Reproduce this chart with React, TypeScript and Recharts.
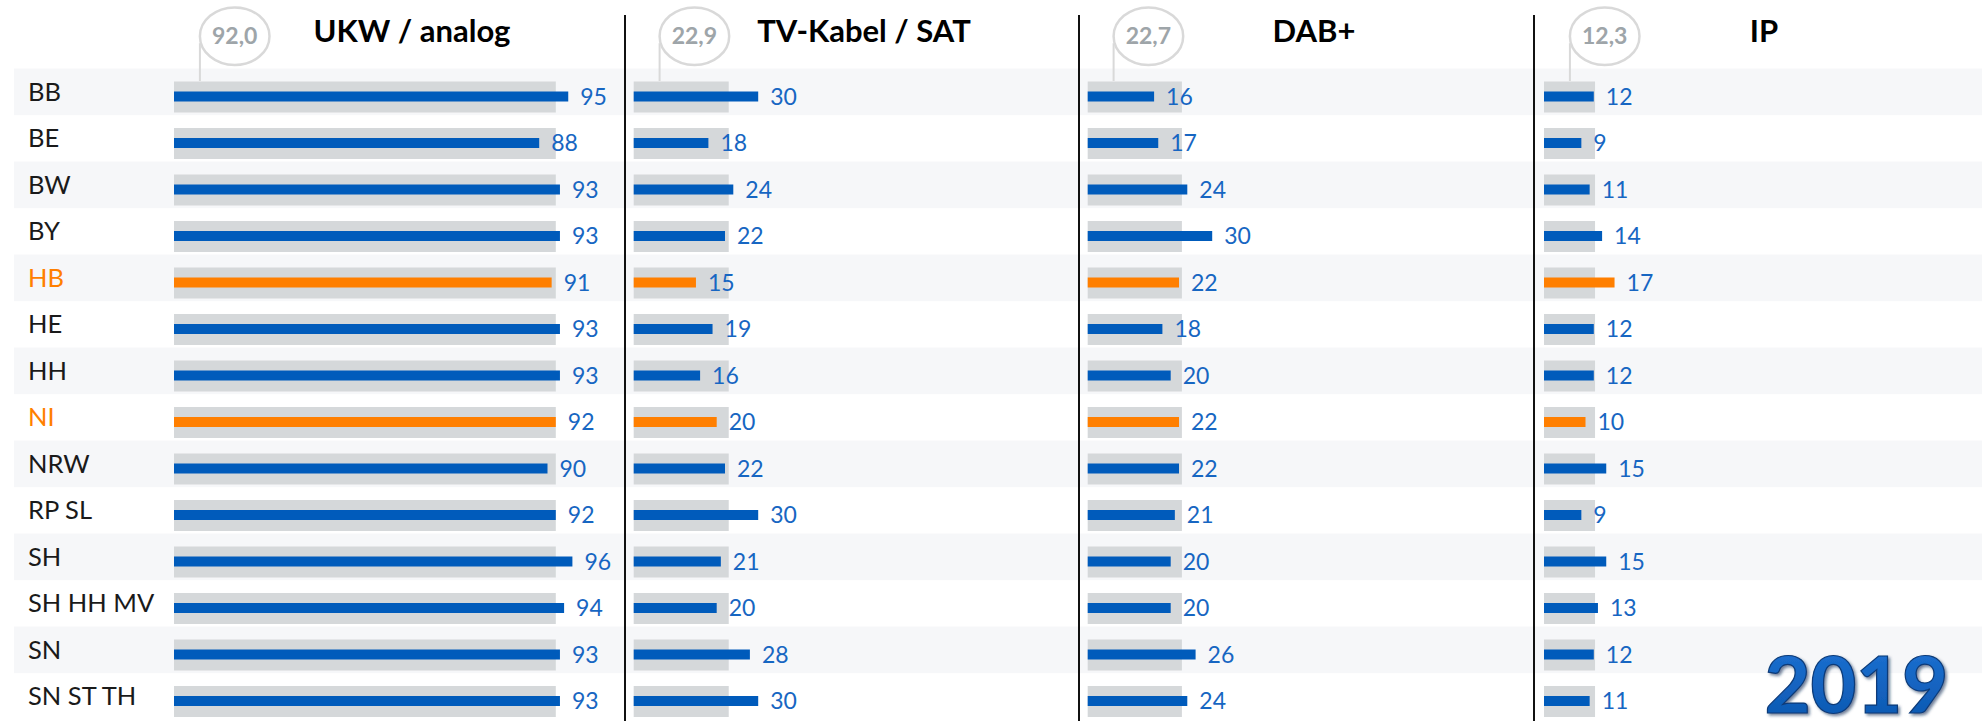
import React from 'react';
import { BarChart, Bar, XAxis, YAxis, Cell, LabelList } from 'recharts';

// data
const regions = ['BB', 'BE', 'BW', 'BY', 'HB', 'HE', 'HH', 'NI', 'NRW', 'RP SL', 'SH', 'SH HH MV', 'SN', 'SN ST TH'];
const highlighted = ['HB', 'NI'];
const ukwAnalog = [95, 88, 93, 93, 91, 93, 93, 92, 90, 92, 96, 94, 93, 93];
const tvKabelSat = [30, 18, 24, 22, 15, 19, 16, 20, 22, 30, 21, 20, 28, 30];
const dabPlus = [16, 17, 24, 30, 22, 18, 20, 22, 22, 21, 20, 20, 26, 24];
const ipValues = [12, 9, 11, 14, 17, 12, 12, 10, 15, 9, 15, 13, 12, 11];
const titles = ['UKW / analog', 'TV-Kabel / SAT', 'DAB+', 'IP'];
const averages = [92.0, 22.9, 22.7, 12.3];
const yearLabel = '2019';

const series = [ukwAnalog, tvKabelSat, dabPlus, ipValues];

const BLUE = '#005bbb';
const ORANGE = '#ff7f00';
const LABEL_BLUE = '#1766c2';
const GREY_BAR = '#d5d8da';
const STRIPE = '#f6f7f9';
const FONT = 'Lato, "Noto Sans", sans-serif';

const PX_PER_UNIT = 4.15;
const TOP = 73.45;
const BAND = 46.5;
const CHART_H = 740;

// panel geometry
const panels = [
  { left: 0, width: 625, barStart: 174, max: 100, stripeLeft: 14, titleX: 412 },
  { left: 625, width: 454, barStart: 8.7, max: 40, stripeLeft: 0, titleX: 864 },
  { left: 1079, width: 455, barStart: 8.7, max: 40, stripeLeft: 0, titleX: 1314 },
  { left: 1534, width: 448, barStart: 10, max: 40, stripeLeft: 0, titleX: 1764 },
];
const dividers = [625, 1079, 1534];

const makeStripe = (x0: number, x1: number) => (props: any) => {
  const { y, height, index } = props;
  if (index % 2 !== 0) return <g />;
  const cy = y + height / 2;
  return <rect x={x0} y={cy - 28.4} width={x1 - x0} height={46.6} fill={STRIPE} />;
};

const RegionTick = (props: any) => {
  const { y, payload } = props;
  const color = highlighted.includes(payload.value) ? ORANGE : '#1a1a1a';
  return (
    <text x={28} y={y - 5} dy="0.36em" fill={color} fontSize={25.5} fontFamily={FONT}>
      {payload.value}
    </text>
  );
};

const Panel = ({ idx }: { idx: number }) => {
  const p = panels[idx];
  const data = regions.map((name, i) => ({ name, value: series[idx][i], avg: averages[idx] }));
  const plotW = p.max * PX_PER_UNIT;
  const first = idx === 0;
  return (
    <div style={{ position: 'absolute', left: p.left, top: 0 }}>
      <BarChart
        width={p.width}
        height={CHART_H}
        data={data}
        layout="vertical"
        margin={{ top: TOP, bottom: CHART_H - TOP - BAND * regions.length, left: first ? 0 : p.barStart, right: p.width - p.barStart - plotW }}
      >
        <XAxis type="number" domain={[0, p.max]} hide />
        <Bar
          dataKey="avg"
          yAxisId="bg"
          barSize={31}
          fill={GREY_BAR}
          isAnimationActive={false}
          background={makeStripe(p.stripeLeft, p.width)}
        />
        <Bar dataKey="value" yAxisId="fg" barSize={10} isAnimationActive={false}>
          {data.map((d) => (
            <Cell key={d.name} fill={highlighted.includes(d.name) ? ORANGE : BLUE} />
          ))}
          <LabelList dataKey="value" position="right" offset={12} fill={LABEL_BLUE} fontSize={23} fontFamily={FONT} />
        </Bar>
        <YAxis
          yAxisId="bg"
          type="category"
          dataKey="name"
          hide={!first}
          width={first ? p.barStart : 0}
          axisLine={false}
          tickLine={false}
          interval={0}
          tick={<RegionTick />}
        />
        <YAxis yAxisId="fg" type="category" dataKey="name" hide width={0} />
      </BarChart>
    </div>
  );
};

const Overlay = () => {
  const cy = 36.2;
  const rx = 34.8;
  const ry = 28.8;
  return (
    <svg width={1982} height={721} style={{ position: 'absolute', left: 0, top: 0, pointerEvents: 'none' }}>
      <defs>
        <linearGradient id="yearFill" x1="0" y1="0" x2="0" y2="1">
          <stop offset="0" stopColor="#1f74d6" />
          <stop offset="1" stopColor="#0b55ad" />
        </linearGradient>
        <filter id="yearShadow" x="-10%" y="-10%" width="130%" height="140%">
          <feDropShadow dx="2" dy="2" stdDeviation="1.5" floodColor="#0a2a55" floodOpacity="0.6" />
        </filter>
      </defs>
      {dividers.map((x) => (
        <line key={x} x1={x} x2={x} y1={15} y2={721} stroke="#111" strokeWidth={2} />
      ))}
      {panels.map((p, i) => {
        const start = i === 0 ? p.barStart : p.left + p.barStart;
        const cx = start + 60.7;
        return (
          <g key={titles[i]}>
            <text x={p.titleX} y={42} textAnchor="middle" fontSize={31} fontWeight={700} fontFamily={FONT} fill="#000">
              {titles[i]}
            </text>
            <line x1={cx - rx} x2={cx - rx} y1={cy + 7} y2={81} stroke="#d9d9d9" strokeWidth={2} />
            <ellipse cx={cx} cy={cy} rx={rx} ry={ry} fill="#fff" stroke="#d9d9d9" strokeWidth={2.5} />
            <text x={cx} y={43.5} textAnchor="middle" fontSize={23} fontWeight={700} fontFamily={FONT} fill="#9ea5a9">
              {averages[i].toFixed(1).replace('.', ',')}
            </text>
          </g>
        );
      })}
      <text
        x={1948}
        y={713}
        textAnchor="end"
        fontSize={79}
        fontWeight={900}
        fontFamily={FONT}
        fill="url(#yearFill)"
        stroke="#0a3a78"
        strokeWidth={1.2}
        filter="url(#yearShadow)"
      >
        {yearLabel}
      </text>
    </svg>
  );
};

export default function App() {
  return (
    <div style={{ position: 'absolute', left: 0, top: 0, width: 1982, height: 721, overflow: 'hidden', background: '#fff' }}>
      {panels.map((_, i) => (
        <Panel key={i} idx={i} />
      ))}
      <Overlay />
    </div>
  );
}
